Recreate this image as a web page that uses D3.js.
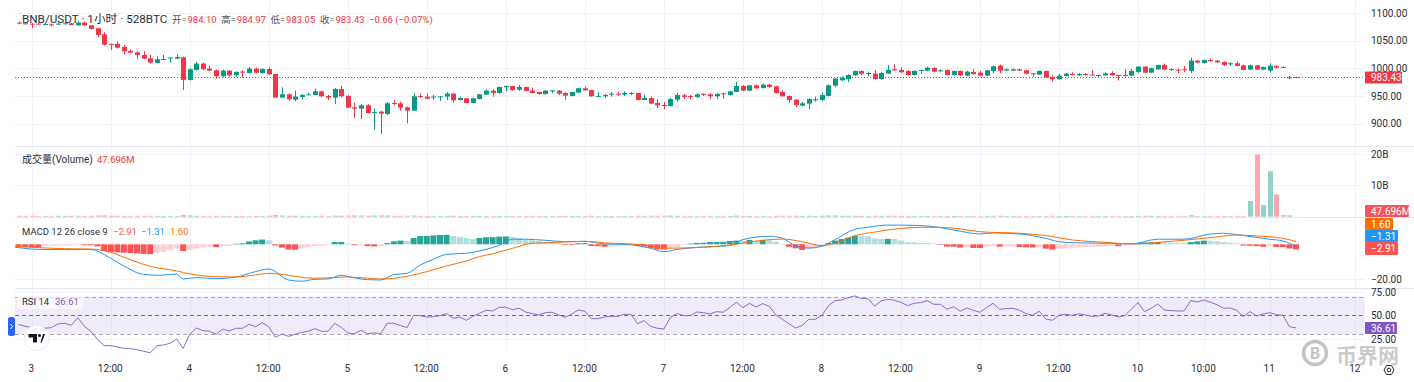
<!DOCTYPE html>
<html>
<head>
<meta charset="utf-8">
<script src="https://cdn.jsdelivr.net/npm/d3@7"></script>
<style>
  html, body { margin: 0; padding: 0; background: #fff; overflow: hidden; }
  text { font-family: Roboto, "Noto Sans CJK SC", sans-serif; }
</style>
</head>
<body>
<div id="chart"></div>
<script>
// hourly candles, one row per bar: open, high, low, close. first row is bar -2
const firstBar = -2;
const candles = [
[1082.7,1085.2,1079.7,1081.5],[1081.5,1082.7,1079.1,1080.9],[1080.9,1082.1,1072.5,1079.7],[1080.9,1081.5,1079.1,1079.7],[1079.1,1082.1,1078.5,1080.3],
[1079.7,1080.9,1075.5,1078.5],[1079.7,1082.1,1079.1,1080.9],[1080.3,1082.7,1079.7,1081.5],[1081.5,1082.1,1078.1,1078.5],[1077.9,1085.8,1077.3,1082.7],
[1082.7,1084.6,1077.3,1077.9],[1077.9,1078.5,1070.7,1071.3],[1072.5,1073.1,1056.2,1060.4],[1061.6,1065.2,1041.1,1042.9],[1044.1,1044.7,1033.2,1042.9],
[1044.1,1048.9,1035.6,1037.4],[1038.7,1042.3,1024.8,1030.8],[1031.4,1034.4,1027.2,1028.4],[1029,1030.2,1016.3,1024.2],[1024.2,1030.8,1016.3,1017.5],
[1018.1,1024.2,1009.1,1010.3],[1009.7,1021.7,1009.1,1016.3],[1015.7,1024.2,1015.1,1016.9],[1018.1,1019.9,1010.3,1019.3],[1017.5,1025.4,1016.3,1020.5],
[1019.9,1021.1,960.7,978.9],[978.9,1000,977.7,998.2],[997,1011.5,995.8,1008.5],[1008.5,1010.3,997,998.2],[999.4,1004.2,995.2,995.8],
[996.4,997.6,981.3,985.5],[985.5,997.6,983.7,995.8],[995.8,997,984.9,987.3],[987.3,994.6,984.9,993.4],[994,997,983.7,992.8],
[991.5,1002.4,990.9,999.4],[999.4,1001.2,990.9,992.1],[991.5,1000,990.9,998.8],[998.8,1001.8,987.9,989.1],[989.7,990,946.9,946.9],
[946.9,965.6,946.9,952.9],[952.9,954.7,941.4,943.8],[943.2,959.5,940.2,948.7],[948,953.5,943.8,951.7],[951.7,955.3,951.7,952.9],
[951.7,963.2,951.7,958.3],[958.3,959.5,948,949.3],[949.9,951.7,942.6,946.9],[946.9,964.4,935.4,962.6],[962.6,968,947.5,949.3],
[949.9,951.7,928.1,928.7],[929.3,937.8,910,926.9],[926.9,935.4,908.2,933],[933,934.8,917.9,919.1],[919.1,927.5,888.9,920.9],
[921.5,923.3,881,917.9],[917.3,939,915.4,936.6],[937.2,942.6,933.6,935.4],[936.6,939.6,923.3,928.7],[929.3,930.5,900.3,923.3],
[923.3,955.3,922.7,949.3],[949.9,954.7,946.2,948.7],[948.7,954.7,943.8,945],[946.9,951.7,942.6,948.7],[947.5,949.9,940.8,949.3],
[948.7,957.1,942.6,954.1],[954.1,955.3,937.8,942],[942.6,948.7,941.4,946.2],[945.6,946.2,936.6,937.2],[937.2,946.9,936.6,945.6],
[944.4,953.5,943.8,952.9],[952.3,962.6,951.7,959.5],[959.5,962.6,948.7,955.3],[955.3,966.8,953.5,966.2],[965.6,968.3,957.7,968],
[968,968.6,959.5,960.7],[961.3,969.8,958.9,966.2],[966.2,966.8,958.3,958.9],[959.5,965,954.1,955.3],[957.1,957.7,952.3,953.5],
[953.5,960.7,952.3,959.5],[958.9,960.7,954.7,960.1],[959.5,960.7,951.7,954.1],[955.3,956.5,943.2,950.5],[949.9,957.7,949.3,957.1],
[955.9,964.4,955.3,963.8],[963.8,966.2,958.9,960.1],[960.7,961.3,948.7,949.3],[948.7,956.5,948.1,949.9],[949.3,953.5,946.2,951.7],
[952.9,957.1,948.7,954.1],[954.1,957.1,949.9,952.9],[952.3,958.3,949.9,955.3],[954.1,957.1,951.7,955.3],[955.3,955.9,942,942.6],
[942.6,951.7,942.6,946.2],[946.2,949.3,935.4,936],[937.2,944.4,928.1,933],[933.6,939,925.7,931.7],[931.7,946.2,930.5,944.4],
[943.2,955.3,939.6,951.7],[951.1,954.1,944.4,948.1],[949.9,951.7,943.8,948.1],[948.1,954.7,946.2,952.9],[953.5,954.7,949.9,952.3],
[952.9,954.7,944.4,949.3],[949.3,955.3,944.4,953.5],[954.7,955.9,944.4,953.5],[951.7,959.5,950.5,958.3],[957.1,975.8,957.1,968],
[968,969.8,958.3,959.5],[959.5,969.8,958.3,969.2],[969.2,970.4,962.6,963.8],[964.4,972.2,963.2,970.4],[970.4,971.6,964.4,966.2],
[967.4,968,954.1,955.3],[957.1,960.1,948.7,949.3],[949.9,950.5,937.2,942.6],[943.2,944.4,929.3,933.6],[932.4,939,931.1,936.6],
[936,945.6,925.7,944.4],[942.6,948.7,939.6,943.8],[942.6,955.9,940.8,951.7],[949.9,971,948.7,969.2],[968.6,982.5,966.8,981.3],
[978.3,985.5,976.4,982.5],[980.1,989.1,974.6,987.9],[987.3,995.8,986.1,995.2],[995.2,996.4,987.3,990.3],[990.3,994,985.5,991.5],
[990.3,997,979.5,980.7],[980.7,992.8,979.5,991.5],[990.3,1006,989.7,997],[998.2,1007.2,995.2,996.4],[997,1001.8,991.5,992.8],
[995.2,996.4,987.3,987.9],[987.9,996.4,986.7,995.2],[995.8,997.6,989.7,997],[995.8,1003,994.6,1001.2],[1000.6,1001.8,992.8,994],
[995.2,998.2,992.8,996.4],[997,998.2,987.3,987.9],[987.9,995.8,987.3,995.2],[995.2,995.8,986.1,987.3],[986.7,995.8,985.5,994],
[993.4,998.8,988.5,989.7],[992.1,995.2,985.5,986.7],[986.7,997,985.5,996.4],[995.2,1004.8,990.9,1003.6],[1004.8,1006.6,990.9,995.8],
[995.8,1000,994.6,998.2],[995.8,999.4,995.2,998.2],[998.2,999.4,995.2,995.8],[996.4,997.6,989.1,990.3],[990.9,990.9,984.9,989.7],
[988.5,995.8,987.9,995.2],[995.2,995.8,982.5,983.1],[984.3,987.3,975.8,980.1],[980.1,989.7,979.5,986.7],[986.1,991.5,984.9,990.3],
[989.7,992.8,987.3,987.9],[987.3,991.5,986.1,989.7],[989.7,991.5,986.7,988.5],[988.5,997,986.7,987.3],[986.7,987.9,983.7,987.9],
[987.3,992.8,986.7,990.9],[991.5,994.6,986.1,987.3],[987.9,987.9,977.7,986.7],[986.7,998.8,984.9,987.9],[986.7,998.8,985.5,995.2],
[993.4,1003.6,991.5,1003],[1003,1004.2,991.5,992.1],[992.1,1001.2,991.5,1000],[998.2,1006.6,997,1006],[1006,1008.5,997,997.6],
[998.8,1000,995.2,997],[997.6,999.4,991.5,995.8],[998.2,1004.2,992.8,996.4],[995.2,1019.3,991.5,1013.9],[1013.9,1015.1,1008.5,1010.3],
[1009.7,1015.7,1008.5,1015.1],[1015.1,1018.1,1012.1,1012.7],[1013.9,1015.1,1009.7,1010.9],[1011.5,1012.7,1004.2,1006],[1007.2,1010.9,1004.2,1009.1],
[1009.1,1012.7,1003.6,1004.2],[1005.4,1006.6,996.4,997],[997.6,1007.2,997,1005.4],[1005.4,1006,997,997.6],[997.6,1003,997,1002.4],
[995.8,1009.1,992.1,1004.8],[1004.2,1005.4,1000,1001.2],[1002.4,1003.6,1000.6,1001.2],[982.5,986.1,980.1,983.7],[984.10,984.97,983.05,983.43]
];

// volume in billions, same bars as candles
const volumes = [
0.3,0.25,0.3,0.2,0.25,0.2,0.3,0.25,0.3,0.3,0.25,0.3,0.4,0.4,0.3,0.3,0.25,0.2,0.3,0.25,
0.3,0.25,0.2,0.25,0.2,0.5,0.4,0.3,0.25,0.2,0.3,0.25,0.2,0.2,0.25,0.2,0.25,0.2,0.3,0.5,
0.35,0.3,0.3,0.25,0.2,0.25,0.3,0.2,0.35,0.3,0.35,0.4,0.35,0.3,0.35,0.4,0.35,0.25,0.3,0.3,
0.35,0.25,0.2,0.2,0.2,0.25,0.3,0.2,0.25,0.25,0.25,0.25,0.2,0.25,0.2,0.25,0.2,0.25,0.2,0.2,
0.2,0.2,0.25,0.25,0.25,0.25,0.2,0.3,0.2,0.2,0.2,0.2,0.2,0.2,0.3,0.25,0.3,0.3,0.3,0.35,
0.3,0.2,0.2,0.2,0.2,0.2,0.2,0.2,0.25,0.35,0.25,0.25,0.2,0.2,0.2,0.3,0.3,0.3,0.3,0.25,
0.3,0.2,0.3,0.4,0.4,0.3,0.3,0.3,0.25,0.2,0.3,0.25,0.3,0.3,0.25,0.25,0.2,0.2,0.25,0.2,
0.2,0.25,0.25,0.2,0.25,0.2,0.2,0.25,0.3,0.3,0.2,0.2,0.2,0.2,0.2,0.2,0.25,0.3,0.25,0.25,
0.2,0.2,0.2,0.2,0.2,0.2,0.2,0.2,0.2,0.2,0.25,0.3,0.25,0.25,0.2,0.2,0.2,0.2,0.45,0.2,
0.2,0.2,0.2,0.2,0.2,0.2,0.2,5.0,19.9,3.7,14.5,7.1,0.5,0.45,0.047696
];

// MACD histogram, same bars as candles
const macdHist = [
-1.5,-1.55,-1.6,-1.65,-1.0,-0.9,-0.8,-0.7,-0.6,-0.4,-0.5,-0.6,-1.2,-3.8,-4.5,-4.6,-4.8,-5,-5.2,-5.5,
-5.6,-4.8,-4.4,-3.2,-2.3,-3.8,-3.2,-2.4,-1.8,-1.4,-1.6,-1,-0.9,0.3,0.6,1.6,2.3,2.7,2.2,-0.7,
-1.9,-3,-3.1,-2.4,-1.6,-1,-0.8,-0.5,1.3,1.35,0.6,-0.5,-0.2,-1.1,-1.2,-1,0.7,1.7,2.1,1.9,
3.6,4.7,4.8,5.1,5.3,5.4,4.8,4.2,3.6,3.1,3.6,4,4.1,4.4,4.5,4.2,3.6,2.7,2.3,1.9,
1.5,1,0.6,-0.4,-0.45,0.6,0.65,-1,-1.05,-1.4,-1.3,-1.1,-0.8,-0.6,-1,-1.3,-2.1,-2.9,-3,-2,
-1.6,-0.4,0.4,0.8,0.85,1.3,1.35,1.4,1.9,2.1,1.9,2.5,1.9,2.5,2.3,1.5,0.2,-1.4,-2.3,-3.2,
-2.7,-2.3,-1.6,0.8,2.1,3,3.8,4.8,4.7,4.6,3.4,3,3.1,3,2.1,1.3,1.25,0.8,0.75,0.4,
-0.3,-1.3,-1.35,-1.9,-1.5,-2.1,-2.15,-1.3,-1.1,-1.3,-1.25,-1.2,-1.5,-1.7,-1.8,-1.5,-2.5,-3,-2.5,-2.3,
-1.9,-1.7,-1.6,-1.4,-1.3,-1.2,-1,-1.1,-0.6,-0.3,0.8,1,1.1,1.3,1.2,1,0.9,0.8,1.3,1.7,
2.1,2,1.7,1.3,1,0.6,-0.7,-0.8,-1,-1.4,-1.1,-1.5,-1.55,-2.4,-2.91
];

// MACD and signal lines, read at the bars where the line visibly bends
const macdBars = [-2.5,0,2,5,9,12,14,17,19.5,22,23,25,28,31,34,36,39,41,43,45,47,49,51,53,55,57,59,61,63,66,69,71,73,75,78,81,84,87,90,94,96,98,102,106,108,112,114,116,118,120,122,125,127,130,133,136,140,144,146,150,154,156,159,164,167,171,175,179,181,184,188,190,192];
const macdValues = [-1.7,-2.7,-3,-2.9,-3,-8,-12.4,-17.2,-17.7,-17,-19.8,-19,-19.6,-18.7,-15.6,-14.1,-20.4,-21.1,-20,-19.8,-17.7,-19.2,-20.2,-20.4,-17.3,-16.6,-11.8,-8.6,-5.7,-5.1,-2.9,-0.6,2.9,2.9,2.3,1.5,1.7,0.2,0,-2.3,-4.2,-2.9,-1.5,-0.8,2.7,4.6,3.4,-0.8,-2.1,-1.1,2.7,8.6,9.7,11,10.9,10.5,8.2,5.9,6.5,5.9,3.4,1.5,0.8,0.6,0.2,2.9,2.9,5.9,6.3,5,2.9,1.9,-1.31];
const signalBars = [-2.5,0,2,5,9,12,15,18,22,24,28,31,34,36,39,41,43,46,48,51,53,57,60,63,66,68,70,73,76,79,84,88,91,94,96,99,103,106,111,114,117,120,122,125,128,132,135,138,141,144,150,154,158,163,167,171,175,179,183,186,190,192];
const signalValues = [-1.1,-1.7,-2.1,-2.5,-2.7,-4.6,-8.8,-12.6,-15.2,-16.9,-18.5,-18.7,-17.5,-16.6,-17.7,-18.9,-19.4,-19,-18.7,-19.4,-19.8,-18.3,-15.6,-12.4,-9.5,-7,-5.4,-2.3,0.6,1,1.7,0.6,0.2,-0.8,-2.3,-2.1,-1.5,-0.4,2.3,3,1.5,-0.8,0.6,4.9,7,9.1,9.7,9.7,8.8,7.2,6.3,5,2.5,1.1,0.2,1.1,2.3,3.8,5.3,4.8,3.4,1.6];

// RSI 14, same bars as candles
const rsiValues = [
40.4,38.3,36.9,36.9,36.2,36.9,40.8,41.5,39.4,47.5,38.3,32.6,24.4,17.7,17.7,16.3,14.9,14.5,13.4,11.7,
10.2,17.7,18.4,20.2,24.8,14.9,29.8,36.5,33.7,33,29.8,35.4,33.3,36.2,36.2,40.4,37.9,42.2,37.9,26.6,
30.1,27.6,29.8,31.9,33,35.8,33,33,41.5,37.2,31.2,30.5,34,30.5,31.2,30.5,41.5,41.5,39,36.9,
50,49.6,48.2,48.6,49.6,51.8,46.8,48.2,44.7,48.9,52.1,55.3,54.6,58.5,58.5,56,57.5,53.5,51.8,50.4,
52.8,53.2,50.4,47.9,51.4,55.7,54.3,46.4,46.4,48.2,48.9,48.9,51.1,51.1,41.1,44.3,38.3,36.2,35.4,47.9,
51.8,49.6,49.6,53.5,52.8,51.4,53.9,53.2,58.2,63.8,58.2,62.8,58.9,62.4,59.6,50.4,45.7,41.1,36.5,39,
45.7,45.7,50,60.3,65.6,66.3,68.8,70.6,67.8,67.8,59.6,65.3,67,66,63.8,60.3,62.8,63.5,65.6,61.7,
61.7,56.4,59.2,54.3,57.8,55.3,53.2,58.2,62.8,56.4,57.1,57.5,55.3,51.8,50,54.3,46.1,44.7,50,51.1,
50,51.4,50.4,48.9,49.3,52.1,50.4,48.2,49.6,56.7,63.5,53.9,57.5,62,55.7,55,54.6,54.6,65.6,64.2,
66.3,63.8,61.3,57.5,57.8,55.3,48.6,53.9,49.3,51.4,52.8,50.7,50,37.9,36.61
];

// time axis
const timeTickBars = [0,12,24,36,48,60,72,84,96,108,120,132,144,156,168,178,188,201];
const timeTickLabels = ['3','12:00','4','12:00','5','12:00','6','12:00','7','12:00','8','12:00','9','12:00','10','10:00','11','12'];

const priceTicks = [900,950,1000,1050,1100];
const volumeTicks = [10,20];
const macdTicks = [-20];
const rsiTicks = [25,50,75];
const rsiBands = [30,50,70];

// legend values
const titleText = 'BNB/USDT · 1小时 · 528BTC';
const ohlcLabels = ['开','高','低','收'];
const ohlcValues = ['984.10','984.97','983.05','983.43'];
const changeText = '−0.66 (−0.07%)';

const width = 1414, height = 382;
const left = 15, right = 1365;
const upColor = '#089981', downColor = '#f23645';
const gridColor = '#f2f3f7', paneLine = '#e4e4f0', textColor = '#2a2e39';
const fmtMinus = s => s.replace('-', '−');

const svg = d3.select('#chart').append('svg')
  .attr('width', width)
  .attr('height', height)
  .style('display', 'block');

const x = d3.scaleLinear().domain([0, 201]).range([31.7, 1355.3]);
const yPrice = d3.scaleLinear().domain([900, 1100]).range([123.5, 13.1]);
const yVolume = d3.scaleLinear().domain([0, 20]).range([216.7, 154]);
const yMacd = d3.scaleLinear().domain([-20, 0]).range([279.3, 244.3]);
const yRsi = d3.scaleLinear().domain([25, 75]).range([338.8, 291.8]);

const barOf = i => firstBar + i;

// vertical grid, through all panes
svg.append('g').selectAll('line').data(timeTickBars).join('line')
  .attr('x1', d => Math.round(x(d)) + 0.5)
  .attr('x2', d => Math.round(x(d)) + 0.5)
  .attr('y1', 0).attr('y2', 350)
  .attr('stroke', gridColor);

function hGrid(ticks, scale) {
  svg.append('g').selectAll('line').data(ticks).join('line')
    .attr('x1', left).attr('x2', right)
    .attr('y1', d => Math.round(scale(d)) + 0.5)
    .attr('y2', d => Math.round(scale(d)) + 0.5)
    .attr('stroke', gridColor);
}
hGrid(priceTicks, yPrice);
hGrid(volumeTicks, yVolume);
hGrid(macdTicks, yMacd);
hGrid([25, 75], yRsi);

// pane separators
[146.5, 217.5, 288.5].forEach(y => {
  svg.append('line').attr('x1', left).attr('x2', width).attr('y1', y).attr('y2', y)
    .attr('stroke', paneLine).attr('stroke-width', 1);
});

// axis helper, labels only
function priceAxis(scale, ticks, fmt) {
  const g = svg.append('g')
    .attr('transform', `translate(${right},0)`)
    .call(d3.axisRight(scale).tickValues(ticks).tickSize(0).tickPadding(6).tickFormat(fmt));
  g.select('.domain').remove();
  g.selectAll('text').attr('fill', textColor).style('font-size', '10px').style('font-family', 'Roboto, sans-serif');
}
priceAxis(yPrice, priceTicks, d => d3.format('.2f')(d));
priceAxis(yVolume, volumeTicks, d => d + 'B');
priceAxis(yMacd, macdTicks, d => fmtMinus(d3.format('.2f')(d)));
priceAxis(yRsi, rsiTicks, d => d3.format('.2f')(d));

// last price line
svg.append('line')
  .attr('x1', left).attr('x2', right)
  .attr('y1', Math.round(yPrice(983.43)) + 0.5)
  .attr('y2', Math.round(yPrice(983.43)) + 0.5)
  .attr('stroke', downColor)
  .attr('stroke-width', 1)
  .attr('stroke-dasharray', '1,2');

// candles
const candle = svg.append('g').selectAll('g').data(candles).join('g');
candle.append('line')
  .attr('x1', (d, i) => Math.round(x(barOf(i))) + 0.5)
  .attr('x2', (d, i) => Math.round(x(barOf(i))) + 0.5)
  .attr('y1', d => yPrice(d[1]))
  .attr('y2', d => yPrice(d[2]))
  .attr('stroke', d => d[3] >= d[0] ? upColor : downColor);
candle.append('rect')
  .attr('x', (d, i) => Math.round(x(barOf(i))) - 2)
  .attr('width', 5)
  .attr('y', d => yPrice(Math.max(d[0], d[3])))
  .attr('height', d => Math.max(1, Math.abs(yPrice(d[0]) - yPrice(d[3]))))
  .attr('fill', d => d[3] >= d[0] ? upColor : downColor);

// volume
svg.append('g').selectAll('rect').data(volumes).join('rect')
  .attr('x', (d, i) => Math.round(x(barOf(i))) - 2)
  .attr('width', 5)
  .attr('y', d => yVolume(d))
  .attr('height', d => yVolume(0) - yVolume(d))
  .attr('fill', (d, i) => candles[i][3] >= candles[i][0] ? '#92d2c8' : '#fba9af');

// macd histogram, colour from the direction of the bar
function histColor(d, i) {
  const prev = i > 0 ? macdHist[i - 1] : d;
  if (d >= 0) return d >= prev ? '#26a69a' : '#b2dfdb';
  return d < prev || i === 0 ? '#ff5252' : '#ffcdd2';
}
svg.append('g').selectAll('rect').data(macdHist).join('rect')
  .attr('x', (d, i) => x(barOf(i)) - 3)
  .attr('width', 6)
  .attr('y', d => yMacd(Math.max(d, 0)))
  .attr('height', d => Math.max(0.6, Math.abs(yMacd(d) - yMacd(0))))
  .attr('fill', histColor);

const macdLine = d3.line().x(d => x(d[0])).y(d => yMacd(d[1])).curve(d3.curveMonotoneX);
svg.append('path')
  .datum(d3.zip(macdBars, macdValues))
  .attr('d', macdLine)
  .attr('fill', 'none').attr('stroke', '#2196f3').attr('stroke-width', 1);
svg.append('path')
  .datum(d3.zip(signalBars, signalValues))
  .attr('d', macdLine)
  .attr('fill', 'none').attr('stroke', '#ff6d00').attr('stroke-width', 1);

// rsi band and line
svg.append('rect')
  .attr('x', left).attr('width', right - left)
  .attr('y', yRsi(70)).attr('height', yRsi(30) - yRsi(70))
  .attr('fill', '#7e57c2').attr('fill-opacity', 0.12);
svg.append('g').selectAll('line').data(rsiBands).join('line')
  .attr('x1', left).attr('x2', right)
  .attr('y1', d => Math.round(yRsi(d)) + 0.5)
  .attr('y2', d => Math.round(yRsi(d)) + 0.5)
  .attr('stroke', d => d === 50 ? '#6f6f80' : '#a9a9b5')
  .attr('stroke-dasharray', '4,3');
svg.append('path')
  .datum(rsiValues)
  .attr('d', d3.line().x((d, i) => x(barOf(i))).y(d => yRsi(d)))
  .attr('fill', 'none').attr('stroke', '#8e6bce').attr('stroke-width', 1);

// time axis
const timeG = svg.append('g')
  .attr('transform', 'translate(-1,363)')
  .call(d3.axisBottom(x).tickValues(timeTickBars).tickSize(0).tickPadding(2).tickFormat((d, i) => timeTickLabels[i]));
timeG.select('.domain').remove();
timeG.selectAll('text').attr('fill', textColor).style('font-size', '10px').style('font-family', 'Roboto, sans-serif');

// legends
function label(parent, px, py, str, color, size) {
  return parent.append('text')
    .attr('x', px).attr('y', py)
    .attr('fill', color)
    .style('font-size', size + 'px')
    .text(str);
}
const legend = svg.append('g');
label(legend, 22, 23, titleText, textColor, 11.7);
let lx = 172;
ohlcLabels.forEach((l, i) => {
  label(legend, lx, 23, l + '=', '#50535e', 9.5);
  label(legend, lx + 15.5, 23, ohlcValues[i], downColor, 9.5);
  lx += 49.3;
});
label(legend, 369, 23, changeText, downColor, 9.5);

label(legend, 22, 163, '成交量(Volume)', textColor, 10);
label(legend, 97, 163, '47.696M', downColor, 9.5);

label(legend, 22, 235, 'MACD 12 26 close 9', textColor, 9.5);
label(legend, 113, 235, '−2.91', '#ff5252', 9.5);
label(legend, 141, 235, '−1.31', '#2196f3', 9.5);
label(legend, 170, 235, '1.60', '#ff6d00', 9.5);

legend.append('rect').attr('x', 17).attr('y', 295).attr('width', 66).attr('height', 14).attr('fill', '#fff').attr('fill-opacity', 0.6);
label(legend, 22, 305, 'RSI 14', textColor, 9.5);
label(legend, 55, 305, '36.61', '#7e57c2', 9.5);

// value tags on the right axis
function tag(y0, y1, w, str, fill) {
  const g = svg.append('g');
  g.append('rect').attr('x', right).attr('y', y0).attr('width', w).attr('height', y1 - y0).attr('rx', 1).attr('fill', fill);
  g.append('text').attr('x', right + 6).attr('y', (y0 + y1) / 2 + 3.5)
    .attr('fill', '#fff').style('font-size', '10px').style('font-family', 'Roboto, sans-serif').text(str);
}
tag(71.5, 83.5, 37, '983.43', downColor);
tag(205, 217, 44, '47.696M', '#f7525f');
tag(218, 230, 28, '1.60', '#ff6d00');
tag(230, 242, 33, '−1.31', '#2196f3');
tag(242, 255, 33, '−2.91', '#ff5252');
tag(322, 334, 32, '36.61', '#7e57c2');

// pane handle
svg.append('rect').attr('x', 8).attr('y', 317).attr('width', 7).attr('height', 19).attr('rx', 2.5).attr('fill', '#2962ff');
svg.append('path').attr('d', 'M10.5 324 L12.5 326.5 L10.5 329').attr('fill', 'none').attr('stroke', '#fff').attr('stroke-width', 1);

// TV logo badge
svg.append('circle').attr('cx', 36.5).attr('cy', 338).attr('r', 12.5).attr('fill', '#fff').attr('stroke', '#eceef2');
svg.append('path')
  .attr('d', 'M28.5 334H37V342.5H33V337.5H28.5Z M40.5 342.5L43 334H45L41.8 342.5Z')
  .attr('fill', '#131722');
svg.append('circle').attr('cx', 39.5).attr('cy', 335.5).attr('r', 1.5).attr('fill', '#131722');

// settings icon
svg.append('path')
  .attr('d', 'M1384 370 L1386.5 365.5 H1391.5 L1394 370 L1391.5 374.5 H1386.5 Z')
  .attr('fill', 'none').attr('stroke', '#2a2e39');
svg.append('circle').attr('cx', 1389).attr('cy', 370).attr('r', 1.8).attr('fill', 'none').attr('stroke', '#2a2e39');

// watermark
const mark = svg.append('g').attr('fill-opacity', 0.9);
mark.append('circle').attr('cx', 1315).attr('cy', 353).attr('r', 11.5)
  .attr('fill', 'none').attr('stroke', '#c4c4c4').attr('stroke-width', 3.5);
mark.append('text').attr('x', 1315).attr('y', 359).attr('text-anchor', 'middle')
  .attr('fill', '#bdbdbd').style('font-size', '16px').style('font-weight', 700).text('B');
mark.append('text').attr('x', 1336).attr('y', 363)
  .attr('fill', '#c4c4c4').style('font-size', '21px').style('font-weight', 700)
  .style('font-family', '"Noto Sans CJK SC"').text('币界网');
</script>
</body>
</html>
